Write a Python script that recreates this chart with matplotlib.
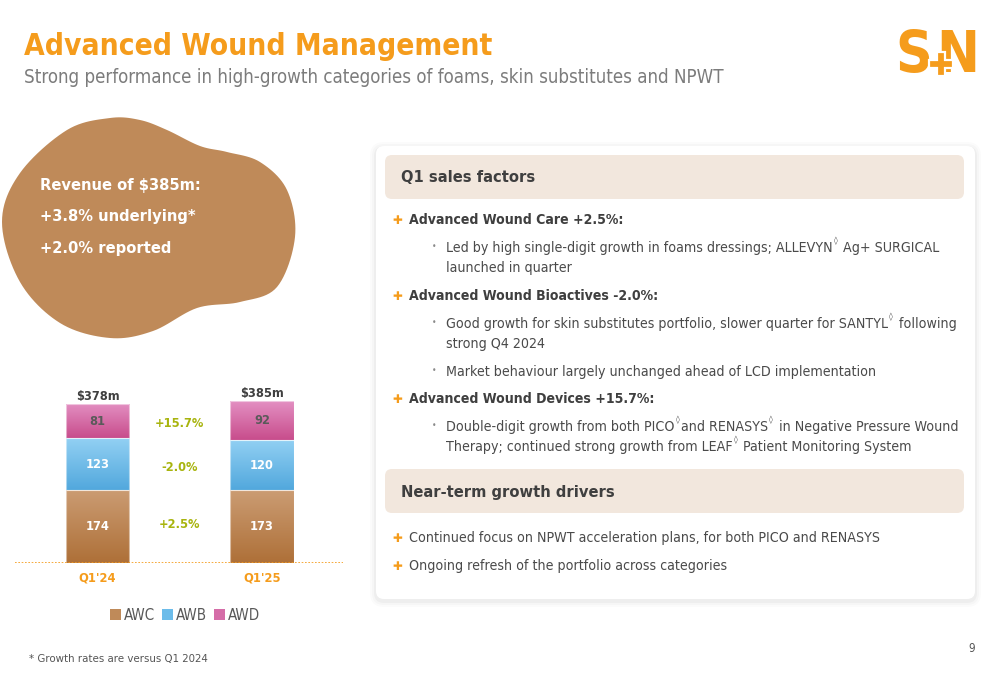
import matplotlib
matplotlib.use("Agg")
import numpy as np
import matplotlib.pyplot as plt
from matplotlib.patches import FancyBboxPatch, PathPatch, Rectangle, Polygon
from matplotlib.path import Path

plt.rcParams['font.family'] = ['DejaVu Sans']
plt.rcParams['font.stretch'] = 'condensed'

# ---------------- data ----------------
periods = ["Q1'24", "Q1'25"]
segments = ["AWC", "AWB", "AWD"]
awc = [174, 173]
awb = [123, 120]
awd = [81, 92]
totals = ["$378m", "$385m"]
growth = ["+2.5%", "-2.0%", "+15.7%"]

title = "Advanced Wound Management"
subtitle = "Strong performance in high-growth categories of foams, skin substitutes and NPWT"
blob_lines = ["Revenue of $385m:", "+3.8% underlying*", "+2.0% reported"]
footnote = "* Growth rates are versus Q1 2024"
page_no = "9"

ORANGE = '#F59C1C'
DARK = '#3f3f3f'
BODY = '#4a4a4a'
BEIGE = '#F2E7DD'
BROWN = '#BF8A59'
OLIVE = '#A8B40E'

seg_colors = {
    'AWC': ('#CB9C73', '#AE7038'),
    'AWB': ('#92D0F3', '#52A8DD'),
    'AWD': ('#E38FC2', '#C84D8C'),
}
seg_flat = {'AWC': '#BF8A59', 'AWB': '#6CBCEA', 'AWD': '#D56DA8'}
label_colors = {'AWC': 'white', 'AWB': 'white', 'AWD': '#5a5a5a'}
growth_offsets = [6, -8, -7]   # label placement nudges (data units)

W, H = 1000, 685
fig = plt.figure(figsize=(W / 100, H / 100), dpi=100)
fig.patch.set_facecolor('white')

bg = fig.add_axes([0, 0, 1, 1])
bg.set_xlim(0, W)
bg.set_ylim(H, 0)
bg.axis('off')
bg.set_zorder(0)

# ---------------- header ----------------
bg.text(24, 46, title, fontsize=21.4, fontweight='bold', color=ORANGE, va='center', ha='left')
bg.text(24, 77, subtitle, fontsize=13.4, color='#7c7c7c', va='center', ha='left')

# logo S+N
bg.text(914, 56, "S", fontsize=41, fontweight='bold', color=ORANGE, ha='center', va='center')
bg.text(958, 56, "N", fontsize=41, fontweight='bold', color=ORANGE, ha='center', va='center')
cx, cy, a, t = 941, 64, 12, 4
cross = [(cx - t, cy - a), (cx + t, cy - a), (cx + t, cy - t), (cx + a, cy - t), (cx + a, cy + t),
         (cx + t, cy + t), (cx + t, cy + a), (cx - t, cy + a), (cx - t, cy + t), (cx - a, cy + t),
         (cx - a, cy - t), (cx - t, cy - t)]
bg.add_patch(Polygon(cross, closed=True, facecolor=ORANGE, edgecolor='white', lw=1.6, zorder=5))

# ---------------- blob ----------------
pts = np.array([(110, 118), (67, 130), (20, 173), (2, 222), (20, 282), (60, 323), (110, 338),
                 (153, 331), (197, 308), (240, 302), (277, 287), (295, 237), (287, 190),
                 (260, 162), (227, 152), (200, 146), (167, 130), (140, 120)], float)
n = len(pts)
curve = []
for i in range(n):
    p0, p1, p2, p3 = pts[(i - 1) % n], pts[i], pts[(i + 1) % n], pts[(i + 2) % n]
    for tt in np.linspace(0, 1, 12, endpoint=False):
        t2, t3 = tt * tt, tt * tt * tt
        curve.append(0.5 * ((2 * p1) + (-p0 + p2) * tt + (2 * p0 - 5 * p1 + 4 * p2 - p3) * t2 +
                            (-p0 + 3 * p1 - 3 * p2 + p3) * t3))
curve.append(curve[0])
bg.add_patch(PathPatch(Path(np.array(curve)), facecolor=BROWN, edgecolor='none', zorder=1))
for i, line in enumerate(blob_lines):
    bg.text(40, 185 + 31.5 * i, line.replace('$', r'\$'), fontsize=11.8, fontweight='bold',
            color='white', va='center', ha='left', zorder=2)

# ---------------- right panel ----------------
for k, al in enumerate([0.015, 0.02, 0.03]):
    d = 6 - 2 * k
    bg.add_patch(FancyBboxPatch((376 - d, 146 - d + 2), 599 + 2 * d, 453 + 2 * d,
                                boxstyle="round,pad=0,rounding_size=%d" % (8 + d),
                                facecolor='black', alpha=al, edgecolor='none', zorder=1))
bg.add_patch(FancyBboxPatch((376, 146), 599, 453, boxstyle="round,pad=0,rounding_size=8",
                            facecolor='white', edgecolor='none', zorder=2))
for y0 in (155, 469):
    bg.add_patch(FancyBboxPatch((385, y0), 579, 44, boxstyle="round,pad=0,rounding_size=7",
                                facecolor=BEIGE, edgecolor='none', zorder=3))
bg.text(401, 177, "Q1 sales factors", fontsize=11.8, fontweight='bold', color=DARK, va='center', zorder=4)
bg.text(401, 492, "Near-term growth drivers", fontsize=11.8, fontweight='bold', color=DARK, va='center', zorder=4)

fig.canvas.draw()
renderer = fig.canvas.get_renderer()


def chain(x, y, parts, size, color, weight='normal'):
    """parts: list of (string, is_superscript)"""
    for s, sup in parts:
        if sup:
            tx = bg.text(x + 1, y - 7, s, fontsize=size * 0.6, color=color, va='center', ha='left',
                         zorder=4, family=['DejaVu Sans'])
        else:
            tx = bg.text(x, y, s, fontsize=size, color=color, va='center', ha='left', zorder=4,
                         fontweight=weight)
        bb = tx.get_window_extent(renderer)
        x = bb.x1 + (2 if sup else 0)
    return x


def plus(y):
    bg.text(397, y, "\u271a", fontsize=8.5, color=ORANGE, ha='center', va='center', zorder=4,
            family=['DejaVu Sans'], fontstretch='normal')


def dot(y):
    bg.text(434, y - 2, "\u2022", fontsize=6, color='#8a8a8a', ha='center', va='center', zorder=4)


BS = 10.2
BB = 10.1
D = "\u25ca"
plus(220); chain(409, 220, [("Advanced Wound Care +2.5%:", False)], BB, DARK, 'bold')
dot(248); chain(446, 248, [("Led by high single-digit growth in foams dressings; ALLEVYN", False), (D, True),
                           (" Ag+ SURGICAL", False)], BS, BODY)
chain(446, 268, [("launched in quarter", False)], BS, BODY)
plus(296); chain(409, 296, [("Advanced Wound Bioactives -2.0%:", False)], BB, DARK, 'bold')
dot(324); chain(446, 324, [("Good growth for skin substitutes portfolio, slower quarter for SANTYL", False), (D, True),
                           (" following", False)], BS, BODY)
chain(446, 344, [("strong Q4 2024", False)], BS, BODY)
dot(372); chain(446, 372, [("Market behaviour largely unchanged ahead of LCD implementation", False)], BS, BODY)
plus(399); chain(409, 399, [("Advanced Wound Devices +15.7%:", False)], BB, DARK, 'bold')
dot(427); chain(446, 427, [("Double-digit growth from both PICO", False), (D, True), ("and RENASYS", False), (D, True),
                           (" in Negative Pressure Wound", False)], BS, BODY)
chain(446, 447, [("Therapy; continued strong growth from LEAF", False), (D, True),
                 (" Patient Monitoring System", False)], BS, BODY)
plus(538); chain(409, 538, [("Continued focus on NPWT acceleration plans, for both PICO and RENASYS", False)], BS, BODY)
plus(566); chain(409, 566, [("Ongoing refresh of the portfolio across categories", False)], BS, BODY)

# footer
bg.text(29, 659, footnote, fontsize=8.2, color='#555555', va='center', ha='left')
bg.text(972, 648, page_no, fontsize=8.5, color='#555555', va='center', ha='center')

# ---------------- stacked bar chart ----------------
ax = fig.add_axes([15 / W, 1 - 563 / H, 328 / W, 189 / H])
ax.set_zorder(3)
ax.patch.set_alpha(0)
x = np.arange(len(periods))
bw = 0.386
bottom = np.zeros(len(periods))
series = {'AWC': awc, 'AWB': awb, 'AWD': awd}
containers = []
mids = {}
LS = 9.2
for seg in segments:
    vals = np.array(series[seg], float)
    bars = ax.bar(x, vals, bw, bottom=bottom, color=seg_flat[seg], edgecolor='none', label=seg, zorder=2)
    containers.append(bars)
    top_c, bot_c = [np.array(matplotlib.colors.to_rgb(c)) for c in seg_colors[seg]]
    grad = np.linspace(0, 1, 64)[:, None, None] * (top_c - bot_c) + bot_c
    for b in bars:
        bx, by, bwid, bh = b.get_x(), b.get_y(), b.get_width(), b.get_height()
        im = ax.imshow(grad, extent=(bx, bx + bwid, by, by + bh), origin='lower', aspect='auto', zorder=3)
        im.set_clip_path(b)
        ax.add_patch(Rectangle((bx, by), bwid, bh, facecolor='none', edgecolor='white', lw=0.8,
                               alpha=0.5, zorder=4))
    mids[seg] = bottom + vals / 2
    for xi, v, m in zip(x, vals, mids[seg]):
        ax.text(xi, m, f"{int(v)}", ha='center', va='center', fontsize=LS, fontweight='bold',
                color=label_colors[seg], zorder=5)
    bottom = bottom + vals

for xi, tot, tl in zip(x, bottom, totals):
    ax.text(xi, tot + 4, tl.replace('$', r'\$'), ha='center', va='bottom', fontsize=LS,
            fontweight='bold', color=DARK, zorder=5)

for seg, g, off in zip(segments, growth, growth_offsets):
    ax.text(0.5, mids[seg].mean() + off, g, ha='center', va='center', fontsize=LS, fontweight='bold',
            color=OLIVE, zorder=5)

ax.axhline(0, color=ORANGE, lw=1.2, ls=(0, (1, 1)), zorder=6)
ax.set_xlim(-0.5015, 1.4924)
ax.set_ylim(0, 450)
ax.set_yticks([])
ax.set_xticks(x, periods)
ax.tick_params(axis='x', length=0, pad=6, labelsize=LS, labelcolor=ORANGE)
for lab in ax.get_xticklabels():
    lab.set_fontweight('bold')
for s in ax.spines.values():
    s.set_visible(False)

leg = ax.legend(handles=containers, labels=segments, loc='center', bbox_to_anchor=(170 / 328, -52 / 189),
                ncol=3, frameon=False, handlelength=0.75, handleheight=0.75, handletextpad=0.2,
                columnspacing=0.45, fontsize=10.8)
for tl in leg.get_texts():
    tl.set_color('#595959')

fig.savefig("out.png", dpi=100, facecolor='white')
